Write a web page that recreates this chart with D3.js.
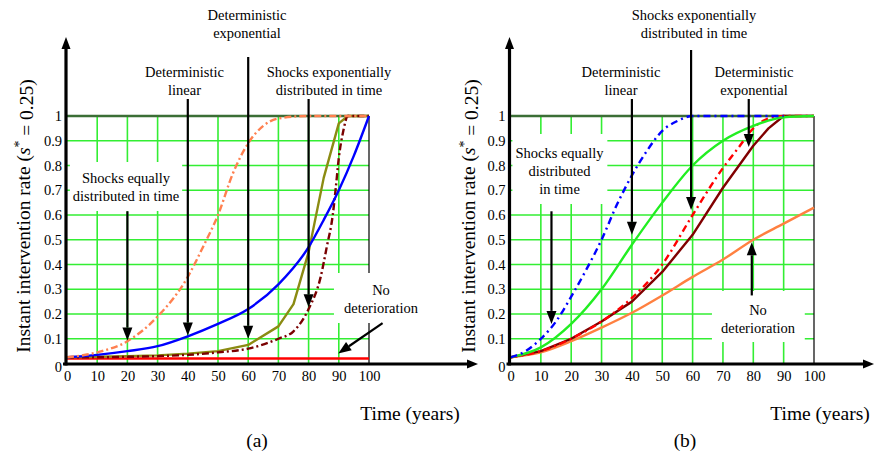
<!DOCTYPE html>
<html><head><meta charset="utf-8">
<script src="https://cdn.jsdelivr.net/npm/d3@7"></script>
<style>
body{margin:0;background:#fff}
svg{display:block}
</style>
</head><body><svg id="c" width="874" height="455" font-family="Liberation Serif"></svg>
<script>
// ---------- data ----------
const xTicks = [0,10,20,30,40,50,60,70,80,90,100];
const yTicks = [0,0.1,0.2,0.3,0.4,0.5,0.6,0.7,0.8,0.9,1];
const yTickLabels = ["0","0.1","0.2","0.3","0.4","0.5","0.6","0.7","0.8","0.9","1"];

// panel (a)
const aNoDetX = [0,100];
const aNoDetY = [0.02,0.02];
const aShockExpX = [0,10,20,30,40,50,60,70,75,80,84,86,88,89,90,91.5,93,100];
const aShockExpY = [0.025,0.025,0.027,0.03,0.035,0.045,0.06,0.1,0.13,0.22,0.35,0.47,0.6,0.71,0.83,0.94,1,1];
const aDetExpX = [0,10,20,30,40,50,60,70,75,80,85,90,93,100];
const aDetExpY = [0.025,0.027,0.03,0.033,0.04,0.05,0.075,0.15,0.24,0.45,0.75,0.97,1,1];
const aDetLinX = [0,10,20,30,40,50,60,70,80,85,90,95,100];
const aDetLinY = [0.025,0.035,0.05,0.07,0.11,0.16,0.22,0.32,0.47,0.58,0.70,0.84,1.0];
const aShockEqX = [0,10,20,30,40,45,50,55,60,65,70,80,90,100];
const aShockEqY = [0.025,0.045,0.09,0.19,0.35,0.47,0.6,0.77,0.89,0.96,0.99,1,1,1];

// panel (b)
const bNoDetX = [0,10,20,30,40,50,60,70,80,90,100];
const bNoDetY = [0.025,0.045,0.09,0.145,0.205,0.275,0.35,0.42,0.5,0.565,0.63];
const bDetExpX = [0,10,20,30,40,50,60,70,80,85,90,100];
const bDetExpY = [0.025,0.05,0.1,0.17,0.25,0.37,0.52,0.71,0.88,0.95,1,1];
const bShockExpX = [0,10,20,30,40,50,60,70,75,80,85,90,100];
const bShockExpY = [0.025,0.05,0.1,0.17,0.265,0.4,0.6,0.79,0.87,0.95,0.99,1,1];
const bDetLinX = [0,10,20,30,40,50,60,70,80,90,100];
const bDetLinY = [0.025,0.065,0.16,0.3,0.48,0.65,0.8,0.9,0.96,0.995,1];
const bShockEqX = [0,5,10,15,20,25,30,35,40,45,50,55,60,70,80,90];
const bShockEqY = [0.025,0.05,0.1,0.17,0.27,0.38,0.5,0.64,0.76,0.86,0.94,0.98,1,1,1,1];

// ---------- drawing ----------
const FONT = "Liberation Serif";
const svg = d3.select("#c");
const FS_TICK = 14.5, FS_LBL = 14.5, FS_TITLE = 19.5;

function zip(xs, ys){ return xs.map((x,i)=>[x, ys[i]]); }

function panel(opts){
  const g = svg.append("g");
  const x = d3.scaleLinear([0,100],[opts.x0, opts.x1]);
  const y = d3.scaleLinear([0,1],[363.5,116]);

  // grid
  g.append("g").selectAll("line").data(yTicks.filter(v=>v>0 && v<1)).join("line")
    .attr("x1",x(0)).attr("x2",x(100)).attr("y1",d=>y(d)).attr("y2",d=>y(d))
    .attr("stroke","#33ee33").attr("stroke-width",1.6);
  g.append("g").selectAll("line").data(xTicks.filter(v=>v>0 && v<100)).join("line")
    .attr("y1",y(0)).attr("y2",y(1)).attr("x1",d=>x(d)).attr("x2",d=>x(d))
    .attr("stroke","#33ee33").attr("stroke-width",1.6);
  g.append("line").attr("x1",x(100)).attr("x2",x(100)).attr("y1",y(0)).attr("y2",y(1))
    .attr("stroke","#000").attr("stroke-width",1.2);

  // label backgrounds (cover grid)
  opts.labels.forEach(l=>{
    if(!l.bg) return;
    const t = g.append("text").attr("font-family",FONT).attr("font-size",FS_LBL).attr("text-anchor","middle");
    l.lines.forEach((s,i)=>t.append("tspan").attr("x",l.cx).attr("y",l.y0+i*18).text(s));
    const bb = t.node().getBBox();
    t.remove();
    g.append("rect").attr("x",bb.x-l.px).attr("y",bb.y-l.pt).attr("width",bb.width+2*l.px)
      .attr("height",bb.height+l.pt+l.pb).attr("fill","#fff");
  });

  // top line at 1
  g.append("line").attr("x1",x(0)).attr("x2",x(100)).attr("y1",y(1)).attr("y2",y(1))
    .attr("stroke","#3b6e35").attr("stroke-width",2.6);

  // series
  opts.series.forEach(s=>{
    const line = d3.line().x(d=>x(d[0])).y(d=>y(d[1])).curve(s.curve||d3.curveMonotoneX);
    g.append("path").attr("d",line(zip(s.xs,s.ys))).attr("fill","none")
      .attr("stroke",s.color).attr("stroke-width",s.w||2.4)
      .attr("stroke-dasharray",s.dash||null).attr("stroke-linejoin","round");
  });

  // axes
  const ax = g.append("g").attr("transform",`translate(${x(0)-1},0)`)
    .call(d3.axisLeft(y).tickValues(yTicks).tickSize(0).tickPadding(4).tickFormat((d,i)=>yTickLabels[i]));
  ax.attr("font-family",FONT).attr("font-size",FS_TICK);
  ax.select(".domain").remove();
  ax.selectAll("text").attr("font-size",FS_TICK).attr("font-family",FONT).attr("fill","#000");
  ax.selectAll(".tick").filter(d=>d===0).select("text").attr("dy","0.55em");
  const bx = g.append("g").attr("transform",`translate(0,${y(0)})`)
    .call(d3.axisBottom(x).tickValues(xTicks).tickSize(0).tickPadding(7).tickFormat(d3.format("d")));
  bx.attr("font-family",FONT).attr("font-size",FS_TICK);
  bx.select(".domain").remove();
  bx.selectAll("text").attr("font-size",FS_TICK).attr("font-family",FONT).attr("fill","#000");

  // thick axis lines with arrows
  const ax0 = x(0)-1, ay0 = y(0)+0.5;
  g.append("line").attr("x1",ax0-3).attr("x2",opts.xEnd-9).attr("y1",ay0).attr("y2",ay0)
    .attr("stroke","#000").attr("stroke-width",3.2);
  g.append("path").attr("d",`M${opts.xEnd},${ay0} L${opts.xEnd-11},${ay0-4.5} L${opts.xEnd-11},${ay0+4.5}Z`).attr("fill","#000");
  g.append("line").attr("x1",ax0).attr("x2",ax0).attr("y1",ay0+1.5).attr("y2",48)
    .attr("stroke","#000").attr("stroke-width",3.2);
  g.append("path").attr("d",`M${ax0},37 L${ax0-4.5},49 L${ax0+4.5},49Z`).attr("fill","#000");

  // labels
  opts.labels.forEach(l=>{
    const t = g.append("text").attr("font-family",FONT).attr("font-size",FS_LBL).attr("text-anchor","middle").attr("fill","#000");
    l.lines.forEach((s,i)=>t.append("tspan").attr("x",l.cx).attr("y",l.y0+i*18).text(s));
  });

  // annotation arrows
  opts.arrows.forEach(a=>{
    const x1 = x(a.from[0]), y1 = a.from[1]==null ? a.fromPx : y(a.from[1]);
    const x2 = x(a.to[0]), y2 = y(a.to[1]);
    const dx = x2-x1, dy = y2-y1, L = Math.hypot(dx,dy), ux = dx/L, uy = dy/L;
    const hl = 13, hw = 5;
    const bxp = x2-ux*hl, byp = y2-uy*hl;
    g.append("line").attr("x1",x1).attr("y1",y1).attr("x2",bxp).attr("y2",byp)
      .attr("stroke","#000").attr("stroke-width",2.2);
    g.append("path").attr("d",`M${x2},${y2} L${bxp-uy*hw},${byp+ux*hw} L${bxp+uy*hw},${byp-ux*hw}Z`).attr("fill","#000");
  });

  // y title
  const tt = g.append("text").attr("font-family",FONT).attr("font-size",FS_TITLE).attr("text-anchor","middle").attr("fill","#000")
    .attr("transform",`translate(${opts.titleX},216) rotate(-90)`);
  tt.append("tspan").text("Instant intervention rate (");
  tt.append("tspan").attr("font-style","italic").text("s");
  tt.append("tspan").attr("dy","-0.45em").attr("font-size",FS_TITLE*0.7).text("*");
  tt.append("tspan").attr("dy","0.45em").text(" = 0.25)");

  // x title and panel letter
  g.append("text").attr("font-family",FONT).attr("font-size",FS_TITLE).attr("text-anchor","middle").attr("fill","#000")
    .attr("x",opts.timeX).attr("y",420).text("Time (years)");
  g.append("text").attr("font-family",FONT).attr("font-size",FS_TITLE).attr("text-anchor","middle").attr("fill","#000")
    .attr("x",opts.letterX).attr("y",447).text(opts.letter);
}

panel({
  x0:67, x1:369, xEnd:478, titleX:30, timeX:410, letterX:257, letter:"(a)",
  series:[
    {xs:aNoDetX, ys:aNoDetY, color:"#ff0000", curve:d3.curveLinear},
    {xs:aDetExpX, ys:aDetExpY, color:"#8b8b12", curve:d3.curveLinear},
    {xs:aShockExpX, ys:aShockExpY, color:"#7a0000", dash:"7,3,2,3"},
    {xs:aDetLinX, ys:aDetLinY, color:"#0000ff"},
    {xs:aShockEqX, ys:aShockEqY, color:"#ff8050", dash:"7,3,2,3"}
  ],
  labels:[
    {cx:247, y0:20, lines:["Deterministic","exponential"]},
    {cx:184.5, y0:77, lines:["Deterministic","linear"]},
    {cx:329, y0:77, lines:["Shocks exponentially","distributed in time"]},
    {cx:126, y0:183, lines:["Shocks equally","distributed in time"], bg:true, px:3, pt:8, pb:7},
    {cx:381, y0:295, lines:["No","deterioration"], bg:true, px:10, pt:9, pb:7}
  ],
  arrows:[
    {from:[20,0.615], to:[20,0.093]},
    {from:[40,null], fromPx:99, to:[40,0.113]},
    {from:[60,null], fromPx:57, to:[60,0.1]},
    {from:[80,null], fromPx:99, to:[80,0.227]},
    {from:[104.5,0.163], to:[89.8,0.04]}
  ]
});

panel({
  x0:510.5, x1:814, xEnd:874, titleX:475, timeX:820, letterX:685, letter:"(b)",
  series:[
    {xs:bNoDetX, ys:bNoDetY, color:"#ff8040"},
    {xs:bDetExpX, ys:bDetExpY, color:"#800000", curve:d3.curveLinear},
    {xs:bShockExpX, ys:bShockExpY, color:"#ff0000", dash:"7,4,2,4"},
    {xs:bDetLinX, ys:bDetLinY, color:"#22ee22"},
    {xs:bShockEqX, ys:bShockEqY, color:"#0000ff", dash:"7,4,2,4"}
  ],
  labels:[
    {cx:694, y0:20, lines:["Shocks exponentially","distributed in time"]},
    {cx:621, y0:77, lines:["Deterministic","linear"]},
    {cx:754, y0:77, lines:["Deterministic","exponential"]},
    {cx:559.5, y0:158, lines:["Shocks equally","distributed","in time"], bg:true, px:3, pt:11, pb:7},
    {cx:758, y0:315, lines:["No","deterioration"], bg:true, px:9, pt:11, pb:6}
  ],
  arrows:[
    {from:[59.5,null], fromPx:50, to:[59.5,0.62]},
    {from:[40,null], fromPx:99, to:[40,0.52]},
    {from:[78.5,null], fromPx:99, to:[78.5,0.875]},
    {from:[13.5,0.615], to:[13.5,0.16]},
    {from:[79.5,0.275], to:[79.5,0.49]}
  ]
});
</script>
</body></html>
